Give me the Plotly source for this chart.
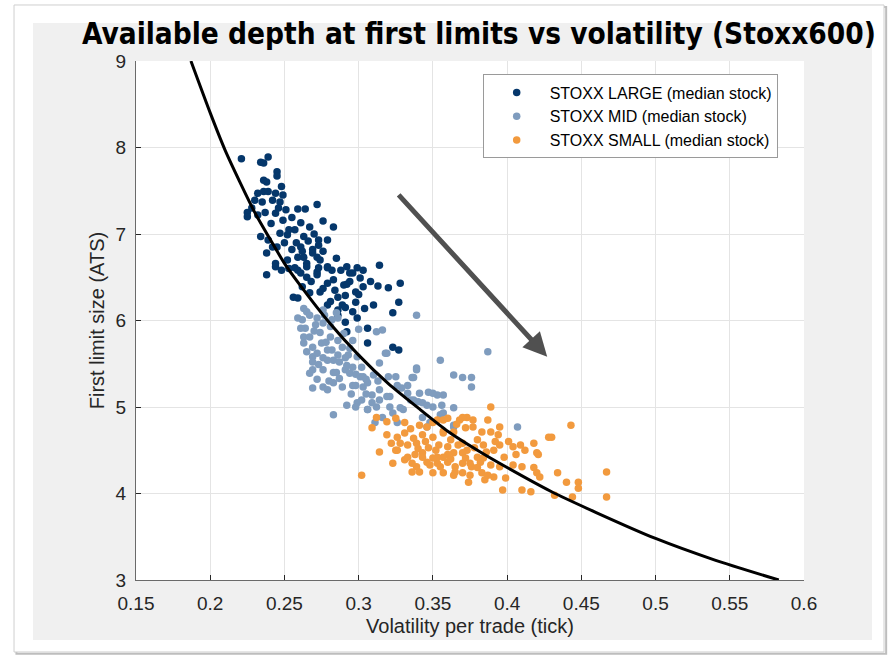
import plotly.graph_objects as go

# ---------------- data ----------------
large_x = [0.221, 0.234, 0.239, 0.236, 0.245, 0.245, 0.236, 0.238, 0.248, 0.232,
           0.236, 0.239, 0.244, 0.249, 0.230, 0.235, 0.242, 0.247, 0.225, 0.225,
           0.232, 0.237, 0.244, 0.251, 0.259, 0.264, 0.272, 0.276, 0.283, 0.249,
           0.255, 0.261, 0.267, 0.234, 0.239, 0.247, 0.252, 0.257, 0.263, 0.273,
           0.279, 0.238, 0.245, 0.250, 0.255, 0.261, 0.269, 0.244, 0.252, 0.259,
           0.265, 0.272, 0.238, 0.248, 0.257, 0.272, 0.279, 0.282, 0.256, 0.259,
           0.314, 0.299, 0.303, 0.294, 0.320, 0.328, 0.327, 0.323, 0.310, 0.304,
           0.306, 0.306, 0.323, 0.327, 0.291, 0.292, 0.299, 0.298, 0.290, 0.283,
           0.272, 0.265, 0.279, 0.286, 0.279, 0.286, 0.274, 0.267, 0.262, 0.265,
           0.273, 0.279, 0.288, 0.296, 0.301, 0.294, 0.303, 0.296, 0.289, 0.286,
           0.242, 0.244, 0.263, 0.269, 0.273, 0.274, 0.259, 0.291, 0.298,
           0.228, 0.241, 0.246, 0.253, 0.258, 0.262, 0.266, 0.270, 0.253, 0.261,
           0.268, 0.276, 0.284, 0.292, 0.300, 0.308, 0.313, 0.281, 0.291, 0.276,
           0.285, 0.292]
large_y = [7.87, 7.83, 7.89, 7.82, 7.72, 7.67, 7.62, 7.60, 7.55, 7.47,
           7.49, 7.49, 7.47, 7.45, 7.39, 7.37, 7.39, 7.37, 7.25, 7.20,
           7.22, 7.25, 7.24, 7.28, 7.29, 7.29, 7.34, 7.15, 7.08, 7.16,
           7.19, 7.13, 7.08, 6.97, 6.93, 7.01, 6.99, 7.05, 6.97, 6.93,
           6.93, 6.78, 6.85, 6.90, 6.82, 6.85, 6.82, 6.66, 6.70, 6.73,
           6.66, 6.73, 6.53, 6.58, 6.61, 6.56, 6.62, 6.58, 6.27, 6.26,
           6.64, 6.61, 6.58, 6.55, 6.38, 6.43, 6.21, 6.09, 6.18, 6.14,
           5.91, 5.74, 5.69, 5.66, 5.98, 5.87, 6.03, 6.33, 6.41, 6.47,
           6.53, 6.50, 6.43, 6.27, 6.18, 6.12, 6.33, 6.32, 6.39, 6.62,
           6.61, 6.61, 6.58, 6.55, 6.49, 6.45, 6.39, 6.10, 6.18, 6.06,
           6.85, 6.62, 6.73, 6.78, 6.87, 6.70, 6.58, 6.29, 6.21,
           7.30, 7.12, 7.30, 7.05, 6.90, 6.80, 6.92, 7.00, 6.60, 6.55,
           6.45, 6.37, 6.35, 6.42, 6.30, 6.45, 6.40, 6.22, 6.15, 6.80,
           6.72, 6.62]

mid_x = [0.263, 0.265, 0.259, 0.262, 0.267, 0.272, 0.277, 0.282, 0.286, 0.264,
         0.271, 0.276, 0.263, 0.267, 0.274, 0.281, 0.286, 0.263, 0.269, 0.275,
         0.282, 0.289, 0.293, 0.299, 0.269, 0.276, 0.283, 0.339, 0.312, 0.316,
         0.318, 0.339, 0.276, 0.285, 0.291, 0.269, 0.276, 0.283, 0.291, 0.296,
         0.301, 0.269, 0.276, 0.283, 0.289, 0.296, 0.303, 0.309, 0.314, 0.321,
         0.283, 0.292, 0.299, 0.306, 0.312, 0.316, 0.323, 0.330, 0.337, 0.341,
         0.347, 0.353, 0.357, 0.355, 0.364, 0.370, 0.376, 0.376, 0.387, 0.325,
         0.339, 0.336, 0.329, 0.343, 0.350, 0.356, 0.343, 0.348, 0.407, 0.364,
         0.355, 0.311, 0.326, 0.265, 0.294, 0.269, 0.279, 0.287, 0.302, 0.267,
         0.285, 0.294, 0.303, 0.310, 0.279, 0.298, 0.306, 0.319, 0.302, 0.309,
         0.314, 0.333, 0.298, 0.306, 0.321, 0.340, 0.350, 0.314, 0.319, 0.337,
         0.364, 0.357, 0.328, 0.335, 0.346, 0.346, 0.364, 0.281, 0.273, 0.261,
         0.272, 0.279, 0.286, 0.292, 0.298, 0.305, 0.287, 0.280, 0.272, 0.295,
         0.305, 0.313, 0.320, 0.326, 0.333, 0.290, 0.296, 0.300, 0.278, 0.270]
mid_y = [6.14, 6.10, 6.03, 6.01, 6.06, 6.03, 6.06, 6.01, 6.03, 5.91,
         5.95, 5.97, 5.81, 5.81, 5.86, 5.81, 5.77, 5.74, 5.69, 5.74,
         5.66, 5.69, 5.60, 5.58, 5.58, 5.57, 5.54, 6.06, 5.87, 5.89,
         5.62, 5.45, 6.12, 6.09, 5.57, 5.43, 5.43, 5.40, 5.43, 5.46,
         5.35, 5.22, 5.23, 5.28, 5.23, 5.25, 5.23, 5.14, 5.20, 5.12,
         4.91, 5.02, 5.05, 4.97, 5.00, 4.88, 4.93, 4.97, 5.08, 5.16,
         5.17, 5.14, 5.14, 5.54, 5.37, 5.34, 5.34, 5.23, 5.64, 5.35,
         5.43, 5.34, 5.22, 5.05, 5.00, 5.02, 4.88, 4.82, 4.77, 4.79,
         4.91, 4.82, 4.82, 5.64, 5.68, 5.52, 5.54, 5.52, 5.46, 5.39,
         5.40, 5.39, 5.35, 5.37, 5.20, 5.25, 5.28, 5.12, 5.08, 5.05,
         5.08, 5.16, 5.00, 4.97, 5.00, 5.06, 5.16, 5.51, 5.62, 5.34,
         4.99, 4.93, 4.99, 5.08, 5.02, 4.77, 4.77, 5.93, 5.49, 5.91,
         5.62, 5.66, 5.60, 5.48, 5.38, 5.32, 5.33, 5.30, 5.32, 5.15,
         5.15, 5.30, 5.35, 5.25, 5.25, 5.85, 5.77, 5.90, 5.75, 5.88]

small_x = [0.312, 0.319, 0.325, 0.309, 0.331, 0.346, 0.350, 0.357, 0.368, 0.373,
           0.377, 0.389, 0.387, 0.395, 0.319, 0.326, 0.331, 0.337, 0.343, 0.350,
           0.357, 0.364, 0.372, 0.377, 0.383, 0.389, 0.394, 0.401, 0.409, 0.418,
           0.428, 0.430, 0.443, 0.314, 0.325, 0.333, 0.339, 0.347, 0.354, 0.360,
           0.367, 0.373, 0.378, 0.384, 0.391, 0.395, 0.404, 0.412, 0.420, 0.323,
           0.331, 0.339, 0.346, 0.353, 0.360, 0.365, 0.370, 0.376, 0.382, 0.389,
           0.395, 0.404, 0.410, 0.418, 0.302, 0.336, 0.341, 0.357, 0.364, 0.370,
           0.383, 0.391, 0.399, 0.420, 0.434, 0.440, 0.448, 0.448, 0.467, 0.397,
           0.410, 0.416, 0.432, 0.444, 0.467, 0.385, 0.374, 0.350, 0.343, 0.364,
           0.380, 0.328, 0.338, 0.353, 0.360, 0.336, 0.348, 0.355, 0.421, 0.422,
           0.375, 0.387, 0.375, 0.343, 0.350, 0.357, 0.370, 0.384, 0.341, 0.353,
           0.360, 0.370,
           0.345, 0.352, 0.362, 0.370, 0.380, 0.386, 0.398, 0.406, 0.340, 0.333,
           0.326, 0.362, 0.372, 0.392, 0.380, 0.365, 0.357, 0.366, 0.335, 0.322]
small_y = [4.88, 4.83, 4.87, 4.76, 4.82, 4.77, 4.82, 4.85, 4.85, 4.88,
           4.85, 5.00, 4.85, 4.77, 4.68, 4.65, 4.70, 4.64, 4.68, 4.65,
           4.70, 4.71, 4.76, 4.77, 4.71, 4.71, 4.68, 4.60, 4.56, 4.58,
           4.65, 4.65, 4.79, 4.48, 4.50, 4.56, 4.58, 4.53, 4.56, 4.54,
           4.56, 4.50, 4.53, 4.56, 4.50, 4.56, 4.54, 4.50, 4.47, 4.35,
           4.39, 4.31, 4.36, 4.35, 4.36, 4.31, 4.35, 4.31, 4.36, 4.33,
           4.31, 4.33, 4.31, 4.30, 4.21, 4.25, 4.25, 4.24, 4.21, 4.24,
           4.24, 4.19, 4.18, 4.24, 4.24, 4.13, 4.13, 4.06, 4.25, 4.04,
           4.04, 4.02, 3.98, 3.96, 3.96, 4.16, 4.13, 4.24, 4.47, 4.47,
           4.42, 4.58, 4.45, 4.42, 4.45, 4.35, 4.33, 4.31, 4.45, 4.19,
           4.21, 4.21, 4.35, 4.42, 4.41, 4.42, 4.47, 4.41, 4.79, 4.85,
           4.87, 4.88,
           4.60, 4.50, 4.62, 4.58, 4.62, 4.48, 4.42, 4.45, 4.52, 4.42,
           4.50, 4.40, 4.41, 4.60, 4.30, 4.25, 4.72, 4.80, 4.75, 4.58]

fit_x = [0.187, 0.20, 0.21, 0.22, 0.23, 0.24, 0.25, 0.26, 0.28, 0.30,
         0.32, 0.34, 0.36, 0.38, 0.40, 0.43, 0.46, 0.50, 0.54, 0.583]
fit_y = [9.0, 8.4, 7.97, 7.6, 7.25, 6.95, 6.66, 6.42, 5.98, 5.6,
         5.27, 4.99, 4.72, 4.5, 4.3, 4.02, 3.78, 3.48, 3.23, 3.0]

series_names = ["STOXX LARGE (median stock)", "STOXX MID (median stock)",
                "STOXX SMALL (median stock)"]
series_colors = ["#05376b", "#7f9cbe", "#f29a3e"]

x_ticks = [0.15, 0.2, 0.25, 0.3, 0.35, 0.4, 0.45, 0.5, 0.55, 0.6]
x_tick_labels = ["0.15", "0.2", "0.25", "0.3", "0.35", "0.4", "0.45", "0.5", "0.55", "0.6"]
y_ticks = [3, 4, 5, 6, 7, 8, 9]

title_text = "Available depth at first limits vs volatility (Stoxx600)"
x_title = "Volatility per trade (tick)"
y_title = "First limit size (ATS)"

arrow_start = (0.326, 7.47)
arrow_end = (0.427, 5.58)

# ---------------- figure ----------------
fig = go.Figure()
for xs, ys, name, col in zip([large_x, mid_x, small_x], [large_y, mid_y, small_y],
                             series_names, series_colors):
    fig.add_trace(go.Scatter(x=xs, y=ys, mode="markers", name=name,
                             marker=dict(color=col, size=7.5, line=dict(width=0))))

fig.add_trace(go.Scatter(x=fit_x, y=fit_y, mode="lines", showlegend=False,
                         line=dict(color="black", width=3, shape="spline", smoothing=0.6),
                         hoverinfo="skip"))

tick_font = dict(family="Liberation Sans, Arial, sans-serif", size=19, color="#262626")
title_font = dict(family="Liberation Sans, Arial, sans-serif", size=20, color="#262626")

fig.update_layout(
    width=894, height=657,
    margin=dict(l=136, r=90, t=61, b=77, autoexpand=False),
    paper_bgcolor="white",
    plot_bgcolor="white",
    showlegend=True,
    legend=dict(x=0.519, y=0.974, xanchor="left", yanchor="top",
                bgcolor="white", bordercolor="#9a9a9a", borderwidth=1,
                font=dict(family="Liberation Sans, Arial, sans-serif", size=16, color="#000000"),
                itemwidth=56, tracegroupgap=0),
    shapes=[
        dict(type="rect", xref="paper", yref="paper", x0=-0.179, x1=1.123, y0=-0.142, y1=1.104,
             line=dict(color="#bdbdbd", width=2), fillcolor="white", layer="below"),
        dict(type="rect", xref="paper", yref="paper", x0=-0.1826, x1=1.1198, y0=-0.1387, y1=1.1079,
             line=dict(color="#cfcfcf", width=1), fillcolor="white", layer="below"),
        dict(type="rect", xref="paper", yref="paper", x0=-0.1542, x1=1.1018, y0=-0.1156, y1=1.0732,
             line=dict(width=0), fillcolor="#f0f0f0", layer="below"),
        dict(type="rect", xref="paper", yref="paper", x0=0, x1=1, y0=0, y1=1,
             line=dict(width=0), fillcolor="white", layer="below"),
    ],
    annotations=[
        dict(text="<b>" + title_text + "</b>", xref="paper", yref="paper",
             x=0.5135, y=1.0515, xanchor="center", yanchor="middle", showarrow=False,
             font=dict(family="DejaVu Sans Condensed, DejaVu Sans, sans-serif", size=29.5, color="black")),
        dict(x=arrow_end[0], y=arrow_end[1], ax=arrow_start[0], ay=arrow_start[1],
             xref="x", yref="y", axref="x", ayref="y", text="", showarrow=True,
             arrowhead=2, arrowsize=0.95, arrowwidth=5, arrowcolor="#505050"),
    ],
)

fig.update_xaxes(range=[0.15, 0.6], tickvals=x_ticks, ticktext=x_tick_labels,
                 ticks="inside", ticklen=5, tickcolor="#262626", tickfont=tick_font,
                 ticklabelstandoff=6, automargin=False,
                 showgrid=True, gridcolor="#e4e4e4", gridwidth=1,
                 showline=True, linecolor="#6a6a6a", linewidth=1, zeroline=False,
                 title=dict(text=x_title, font=title_font, standoff=6))
fig.update_yaxes(range=[3, 9], tickvals=y_ticks, automargin=False,
                 ticks="inside", ticklen=5, tickcolor="#262626", tickfont=tick_font,
                 ticklabelstandoff=5,
                 showgrid=True, gridcolor="#e4e4e4", gridwidth=1,
                 showline=True, linecolor="#6a6a6a", linewidth=1, zeroline=False,
                 title=dict(text=y_title, font=title_font, standoff=5))

fig.write_html("out.html", config={"displayModeBar": False},
               post_script="document.body.style.margin='0px';")
